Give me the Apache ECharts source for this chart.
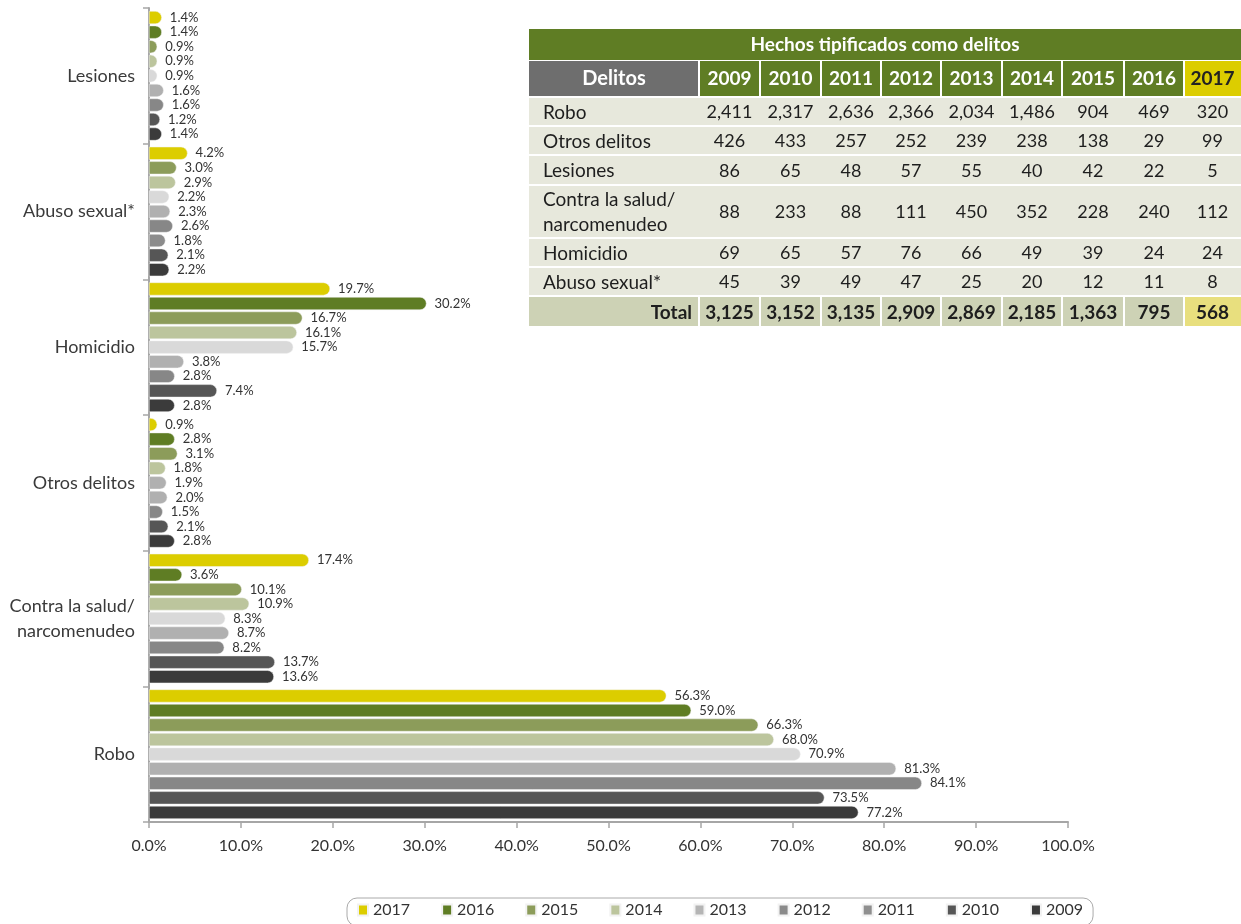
<!DOCTYPE html>
<html>
<head>
<meta charset="utf-8">
<script src="https://cdn.jsdelivr.net/npm/echarts@6/dist/echarts.min.js"></script>
<style>
html,body{margin:0;padding:0;background:#fff;}
#chart{width:1241px;height:924px;}
</style>
</head>
<body>
<div id="chart"></div>
<script>
// ---- Chart data (categories listed bottom -> top) ----
const categories = ['Robo', 'Contra la salud/\nnarcomenudeo', 'Otros delitos', 'Homicidio', 'Abuso sexual*', 'Lesiones'];
const years = ['2017', '2016', '2015', '2014', '2013', '2012', '2011', '2010', '2009'];
const v2017 = [56.3, 17.4, 0.9, 19.7, 4.2, 1.4];
const v2016 = [59.0, 3.6, 2.8, 30.2, 3.0, 1.4];
const v2015 = [66.3, 10.1, 3.1, 16.7, 2.9, 0.9];
const v2014 = [68.0, 10.9, 1.8, 16.1, 2.2, 0.9];
const v2013 = [70.9, 8.3, 1.9, 15.7, 2.3, 0.9];
const v2012 = [81.3, 8.7, 2.0, 3.8, 2.6, 1.6];
const v2011 = [84.1, 8.2, 1.5, 2.8, 1.8, 1.6];
const v2010 = [73.5, 13.7, 2.1, 7.4, 2.1, 1.2];
const v2009 = [77.2, 13.6, 2.8, 2.8, 2.2, 1.4];
const xTicks = [0, 10, 20, 30, 40, 50, 60, 70, 80, 90, 100];

// ---- Table data ----
const tableTitle = 'Hechos tipificados como delitos';
const tableHeader = 'Delitos';
const tableYears = ['2009', '2010', '2011', '2012', '2013', '2014', '2015', '2016', '2017'];
const tableRowNames = ['Robo', 'Otros delitos', 'Lesiones', 'Contra la salud/\nnarcomenudeo', 'Homicidio', 'Abuso sexual*'];
const tRobo = ['2,411', '2,317', '2,636', '2,366', '2,034', '1,486', '904', '469', '320'];
const tOtros = ['426', '433', '257', '252', '239', '238', '138', '29', '99'];
const tLesiones = ['86', '65', '48', '57', '55', '40', '42', '22', '5'];
const tContra = ['88', '233', '88', '111', '450', '352', '228', '240', '112'];
const tHomicidio = ['69', '65', '57', '76', '66', '49', '39', '24', '24'];
const tAbuso = ['45', '39', '49', '47', '25', '20', '12', '11', '8'];
const tTotalLabel = 'Total';
const tTotal = ['3,125', '3,152', '3,135', '2,909', '2,869', '2,185', '1,363', '795', '568'];

// ---- Styles ----
const FONT = 'Lato, "Open Sans", sans-serif';
const barColors = {
  '2017': '#dccd00', '2016': '#5f7d24', '2015': '#8c9c5a', '2014': '#bcc59d', '2013': '#d9d9d9',
  '2012': '#b0b0b0', '2011': '#878787', '2010': '#565656', '2009': '#3b3b3b'
};
// colour quirks seen in the reference (category index -> colour), style only
const colorQuirks = {
  '2016': { 4: '#8c9c5a' },
  '2015': { 4: '#bcc59d' },
  '2014': { 4: '#d9d9d9' },
  '2013': { 4: '#b0b0b0', 2: '#b0b0b0' },
  '2012': { 4: '#878787' },
  '2011': { 4: '#8c8c8c' }
};
const legendColors = {
  '2017': '#dccd00', '2016': '#5f7d24', '2015': '#8c9c5a', '2014': '#bcc59d', '2013': '#b5b5b5',
  '2012': '#8a8a8a', '2011': '#8f8f8f', '2010': '#565656', '2009': '#3b3b3b'
};
const seriesValues = { '2017': v2017, '2016': v2016, '2015': v2015, '2014': v2014, '2013': v2013,
  '2012': v2012, '2011': v2011, '2010': v2010, '2009': v2009 };

const series = years.map(y => ({
  name: y,
  type: 'bar',
  data: seriesValues[y].map((v, i) => {
    const q = colorQuirks[y] && colorQuirks[y][i];
    return q ? { value: v, itemStyle: { color: q } } : v;
  }),
  barWidth: 13,
  barGap: '12%',
  itemStyle: { color: barColors[y], borderRadius: [0, 7, 7, 0], borderColor: '#f2f2f2', borderWidth: 0.5 },
  label: {
    show: true, position: 'right', distance: 8,
    formatter: p => p.value.toFixed(1) + '%',
    fontFamily: FONT, fontSize: 13, color: '#333'
  }
}));

// ---- Table graphic ----
const colEdges = [529, 699, 760, 821, 881, 941, 1002, 1062, 1124, 1184, 1241];
const titleTop = 29, headerTop = 61, bodyTop = 97;
const rowEdges = [97, 126, 155, 185, 238, 267, 296, 326];
const tableBody = [tRobo, tOtros, tLesiones, tContra, tHomicidio, tAbuso];
const g = [];
const green = '#5f7d24';
// title
g.push({ type: 'rect', shape: { x: colEdges[0], y: titleTop, width: colEdges[10] - colEdges[0], height: headerTop - titleTop - 1 }, style: { fill: green } });
g.push({ type: 'text', style: { text: tableTitle, x: (colEdges[0] + colEdges[10]) / 2, y: (titleTop + headerTop) / 2, align: 'center', verticalAlign: 'middle', fill: '#fff', font: 'bold 19px ' + FONT } });
// header
g.push({ type: 'rect', shape: { x: colEdges[0], y: headerTop, width: colEdges[1] - colEdges[0] - 1, height: bodyTop - headerTop - 1 }, style: { fill: '#6e6e6e' } });
g.push({ type: 'text', style: { text: tableHeader, x: (colEdges[0] + colEdges[1]) / 2, y: (headerTop + bodyTop) / 2, align: 'center', verticalAlign: 'middle', fill: '#fff', font: 'bold 20px ' + FONT } });
tableYears.forEach((yr, i) => {
  const last = i === tableYears.length - 1;
  g.push({ type: 'rect', shape: { x: colEdges[i + 1] + 1, y: headerTop, width: colEdges[i + 2] - colEdges[i + 1] - (last ? 1 : 2), height: bodyTop - headerTop - 1 }, style: { fill: last ? '#dccd00' : green } });
  g.push({ type: 'text', style: { text: yr, x: (colEdges[i + 1] + colEdges[i + 2]) / 2, y: (headerTop + bodyTop) / 2, align: 'center', verticalAlign: 'middle', fill: last ? '#222' : '#fff', font: 'bold 19px ' + FONT } });
});
// body rows
tableRowNames.forEach((name, r) => {
  const top = rowEdges[r] + 1, bot = rowEdges[r + 1] - 1;
  g.push({ type: 'rect', shape: { x: colEdges[0], y: top, width: colEdges[10] - colEdges[0], height: bot - top }, style: { fill: '#e7e8dc' } });
  g.push({ type: 'text', style: { text: name, x: colEdges[0] + 14, y: (top + bot) / 2 + 1, align: 'left', verticalAlign: 'middle', fill: '#1e1e1e', font: '19px ' + FONT, lineHeight: 25 } });
  tableBody[r].forEach((val, i) => {
    g.push({ type: 'text', style: { text: val, x: (colEdges[i + 1] + colEdges[i + 2]) / 2, y: (top + bot) / 2 + 1, align: 'center', verticalAlign: 'middle', fill: '#1e1e1e', font: '18px ' + FONT } });
  });
});
// total row
{
  const top = rowEdges[6] + 1, bot = rowEdges[7];
  g.push({ type: 'rect', shape: { x: colEdges[0], y: top, width: colEdges[1] - colEdges[0] - 1, height: bot - top }, style: { fill: '#cdd2b5' } });
  g.push({ type: 'text', style: { text: tTotalLabel, x: colEdges[1] - 7, y: (top + bot) / 2 + 1, align: 'right', verticalAlign: 'middle', fill: '#1e1e1e', font: 'bold 19px ' + FONT } });
  tTotal.forEach((val, i) => {
    const last = i === tTotal.length - 1;
    g.push({ type: 'rect', shape: { x: colEdges[i + 1] + 1, y: top, width: colEdges[i + 2] - colEdges[i + 1] - (last ? 1 : 2), height: bot - top }, style: { fill: last ? '#e8df7e' : '#cdd2b5' } });
    g.push({ type: 'text', style: { text: val, x: (colEdges[i + 1] + colEdges[i + 2]) / 2, y: (top + bot) / 2 + 1, align: 'center', verticalAlign: 'middle', fill: '#1e1e1e', font: 'bold 19px ' + FONT } });
  });
}

const chart = echarts.init(document.getElementById('chart'), null, { renderer: 'canvas' });
chart.setOption({
  backgroundColor: '#fff',
  animation: false,
  textStyle: { fontFamily: FONT },
  grid: { left: 149, right: 173, top: 8, bottom: 102, containLabel: false },
  xAxis: {
    type: 'value', min: xTicks[0], max: xTicks[xTicks.length - 1], interval: xTicks[1] - xTicks[0],
    axisLine: { show: true, lineStyle: { color: '#a6a6a6', width: 2 } },
    axisTick: { show: true, length: 6, lineStyle: { color: '#a6a6a6', width: 1.5 } },
    splitLine: { show: false },
    axisLabel: { formatter: v => v.toFixed(1) + '%', fontFamily: FONT, fontSize: 16, color: '#333', margin: 16 }
  },
  yAxis: {
    type: 'category', data: categories,
    axisLine: { show: true, lineStyle: { color: '#a6a6a6', width: 2 } },
    axisTick: { show: true, length: 6, lineStyle: { color: '#a6a6a6', width: 1.5 } },
    axisLabel: { fontFamily: FONT, fontSize: 18, color: '#3a3a3a', margin: 14, lineHeight: 25 }
  },
  legend: {
    left: 347, top: 898,
    data: years.map(y => ({ name: y, itemStyle: { color: legendColors[y] } })),
    icon: 'rect', itemWidth: 10, itemHeight: 11, itemGap: 31,
    textStyle: { fontFamily: FONT, fontSize: 16, color: '#333' },
    borderColor: '#aaa', borderWidth: 1, borderRadius: 10, padding: [4, 10, 8, 10]
  },
  series: series,
  graphic: { elements: g }
});
</script>
</body>
</html>
